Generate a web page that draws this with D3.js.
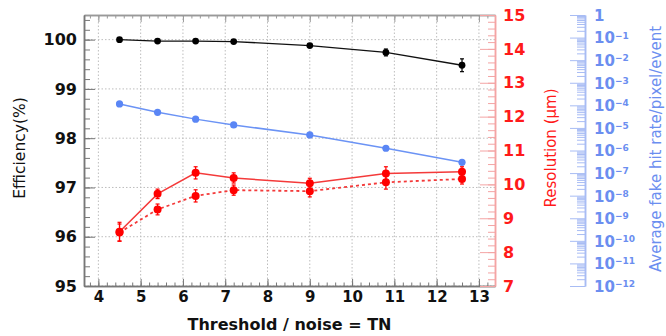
<!DOCTYPE html>
<html>
<head>
<meta charset="utf-8">
<script src="https://cdn.jsdelivr.net/npm/d3@7"></script>
<style>
  html, body { margin: 0; padding: 0; background: #fff; }
  svg { display: block; }
</style>
</head>
<body>
<svg id="chart" width="666" height="336"></svg>
<script>
// Efficiency / resolution / fake hit rate versus threshold-to-noise

const tn = [4.5, 5.4, 6.3, 7.2, 9.0, 10.8, 12.6];
const efficiency = [100.0, 99.97, 99.97, 99.96, 99.88, 99.74, 99.48];
const efficiencyErr = [0.01, 0.015, 0.015, 0.02, 0.03, 0.07, 0.13];
const resolutionSolid = [8.60, 9.72, 10.34, 10.19, 10.03, 10.32, 10.37];
const resolutionSolidErr = [0.28, 0.14, 0.18, 0.15, 0.15, 0.2, 0.15];
const resolutionDashed = [8.58, 9.26, 9.66, 9.83, 9.80, 10.06, 10.16];
const resolutionDashedErr = [0.25, 0.16, 0.18, 0.15, 0.17, 0.2, 0.15];
const fakeRate = [1.15e-4, 4.9e-5, 2.45e-5, 1.35e-5, 4.9e-6, 1.26e-6, 3.0e-7];

const xTicks = [4, 5, 6, 7, 8, 9, 10, 11, 12, 13];
const effTicks = [95, 96, 97, 98, 99, 100];
const resTicks = [7, 8, 9, 10, 11, 12, 13, 14, 15];
const rateExponents = [0, -1, -2, -3, -4, -5, -6, -7, -8, -9, -10, -11, -12];

const svg = d3.select('#chart');
const plotLeft = 84, plotRight = 495, plotTop = 15, plotBottom = 286;
const tickFont = 'DejaVu Sans, sans-serif';

const x = d3.scaleLinear().domain([3.66, 13.38]).range([plotLeft, plotRight]);
const yEff = d3.scaleLinear().domain([95, 100.5]).range([plotBottom, plotTop]);
const yRes = d3.scaleLinear().domain([7, 15]).range([plotBottom, plotTop]);
const yRate = d3.scaleLog().domain([1e-12, 1]).range([plotBottom, plotTop]);

function minorTicks(lo, hi, step) {
  const out = [];
  for (let v = lo; v <= hi + 1e-9; v += step) out.push(+v.toFixed(4));
  return out;
}

// grid
const grid = svg.append('g')
  .attr('stroke', '#bdbdbd')
  .attr('stroke-width', 1)
  .attr('stroke-dasharray', '1.5,2');
grid.selectAll('.gx')
  .data(xTicks)
  .enter()
  .append('line')
  .attr('x1', d => x(d)).attr('x2', d => x(d))
  .attr('y1', plotTop).attr('y2', plotBottom);
grid.selectAll('.gy')
  .data(effTicks)
  .enter()
  .append('line')
  .attr('x1', plotLeft).attr('x2', plotRight)
  .attr('y1', d => yEff(d)).attr('y2', d => yEff(d));

function styleAxis(g, color, width) {
  g.selectAll('path').attr('stroke', color).attr('stroke-width', width);
  g.selectAll('line').attr('stroke', color).attr('stroke-width', 1);
}

// top frame
const topMinor = svg.append('g')
  .attr('transform', `translate(0,${plotTop})`)
  .call(d3.axisTop(x).tickValues(minorTicks(3.8, 13.2, 0.2)).tickSize(-3.5).tickSizeOuter(0).tickFormat(''));
styleAxis(topMinor, '#999', 1.5);
const topMajor = svg.append('g')
  .attr('transform', `translate(0,${plotTop})`)
  .call(d3.axisTop(x).tickValues(xTicks).tickSize(-7).tickSizeOuter(0).tickFormat(''));
styleAxis(topMajor, '#999', 1.5);

// bottom axis
const xMinor = svg.append('g')
  .attr('transform', `translate(0,${plotBottom})`)
  .call(d3.axisBottom(x).tickValues(minorTicks(3.8, 13.2, 0.2)).tickSize(-3.5).tickSizeOuter(0).tickFormat(''));
styleAxis(xMinor, '#777', 1.5);
const xAxis = svg.append('g')
  .attr('transform', `translate(0,${plotBottom})`)
  .call(d3.axisBottom(x).tickValues(xTicks).tickSize(-7).tickSizeOuter(0).tickPadding(5).tickFormat(d3.format('d')));
styleAxis(xAxis, '#777', 1.5);
xAxis.selectAll('text')
  .attr('fill', '#111')
  .style('font', `bold 15px ${tickFont}`);

// left efficiency axis
const effMinor = svg.append('g')
  .attr('transform', `translate(${plotLeft},0)`)
  .call(d3.axisLeft(yEff).tickValues(minorTicks(95, 100.4, 0.2)).tickSize(-6).tickSizeOuter(0).tickFormat(''));
styleAxis(effMinor, '#777', 1.5);
const effAxis = svg.append('g')
  .attr('transform', `translate(${plotLeft},0)`)
  .call(d3.axisLeft(yEff).tickValues(effTicks).tickSize(-11).tickSizeOuter(0).tickPadding(7).tickFormat(d3.format('d')));
styleAxis(effAxis, '#777', 1.5);
effAxis.selectAll('text')
  .attr('fill', '#111')
  .style('font', `bold 16px ${tickFont}`);

// right resolution axis
const resMinor = svg.append('g')
  .attr('transform', `translate(${plotRight},0)`)
  .call(d3.axisRight(yRes).tickValues(minorTicks(7, 15, 0.2)).tickSize(-7).tickSizeOuter(0).tickFormat(''));
styleAxis(resMinor, '#f4a4a4', 1.5);
const resAxis = svg.append('g')
  .attr('transform', `translate(${plotRight},0)`)
  .call(d3.axisRight(yRes).tickValues(resTicks).tickSize(-15).tickSizeOuter(0).tickPadding(8).tickFormat(d3.format('d')));
styleAxis(resAxis, '#f4a4a4', 1.5);
resAxis.selectAll('text')
  .attr('fill', '#ff1a1a')
  .style('font', `bold 16px ${tickFont}`);

// far right fake-rate log axis
const rateX = 585;
const rateMinorValues = [];
rateExponents.slice(1).forEach(e => {
  for (let m = 2; m <= 9; m++) rateMinorValues.push(m * Math.pow(10, e));
});
const rateMinor = svg.append('g')
  .attr('transform', `translate(${rateX},0)`)
  .call(d3.axisRight(yRate).tickValues(rateMinorValues).tickSize(-8).tickSizeOuter(0).tickFormat(''));
styleAxis(rateMinor, '#a8bcf4', 1.5);
const rateAxis = svg.append('g')
  .attr('transform', `translate(${rateX},0)`)
  .call(d3.axisRight(yRate).tickValues(rateExponents.map(e => Math.pow(10, e))).tickSize(-15).tickSizeOuter(0).tickPadding(8).tickFormat(''));
styleAxis(rateAxis, '#a8bcf4', 1.5);
rateAxis.selectAll('.tick').each(function (d, i) {
  const e = rateExponents[i];
  const t = d3.select(this).append('text')
    .attr('x', 9)
    .attr('dy', '0.36em')
    .attr('fill', '#6b8ef0')
    .style('font', `bold 15px ${tickFont}`);
  if (e === 0) {
    t.text('1');
  } else {
    t.append('tspan').text('10');
    t.append('tspan')
      .attr('dy', '-0.55em')
      .style('font-size', '9px')
      .text('\u2212' + Math.abs(e));
  }
});

// axis titles
svg.append('text')
  .attr('transform', `translate(25,148) rotate(-90)`)
  .attr('text-anchor', 'middle')
  .attr('fill', '#111')
  .style('font', `15.5px ${tickFont}`)
  .text('Efficiency(%)');
svg.append('text')
  .attr('x', (plotLeft + plotRight) / 2)
  .attr('y', 330)
  .attr('text-anchor', 'middle')
  .attr('fill', '#111')
  .style('font', `bold 16px ${tickFont}`)
  .text('Threshold / noise = TN');
svg.append('text')
  .attr('transform', `translate(556,148) rotate(-90)`)
  .attr('text-anchor', 'middle')
  .attr('fill', '#ff1a1a')
  .style('font', `15px ${tickFont}`)
  .text('Resolution (\u03bcm)');
svg.append('text')
  .attr('transform', `translate(661,149) rotate(-90)`)
  .attr('text-anchor', 'middle')
  .attr('fill', '#6b8ef0')
  .style('font', `15px ${tickFont}`)
  .text('Average fake hit rate/pixel/event');

// series
function drawSeries(values, errors, yScale, opts) {
  const pts = tn.map((t, i) => ({ t, v: values[i], e: errors ? errors[i] : 0 }));
  const g = svg.append('g');
  g.append('path')
    .datum(pts)
    .attr('fill', 'none')
    .attr('stroke', opts.line)
    .attr('stroke-width', opts.width)
    .attr('stroke-dasharray', opts.dash || null)
    .attr('d', d3.line().x(d => x(d.t)).y(d => yScale(d.v)));
  if (errors) {
    const eb = g.selectAll('.err')
      .data(pts)
      .enter()
      .append('g')
      .attr('stroke', opts.mark)
      .attr('stroke-width', 1.2);
    eb.append('line')
      .attr('x1', d => x(d.t)).attr('x2', d => x(d.t))
      .attr('y1', d => yScale(d.v - d.e)).attr('y2', d => yScale(d.v + d.e));
    eb.append('line')
      .attr('x1', d => x(d.t) - 2).attr('x2', d => x(d.t) + 2)
      .attr('y1', d => yScale(d.v + d.e)).attr('y2', d => yScale(d.v + d.e));
    eb.append('line')
      .attr('x1', d => x(d.t) - 2).attr('x2', d => x(d.t) + 2)
      .attr('y1', d => yScale(d.v - d.e)).attr('y2', d => yScale(d.v - d.e));
  }
  g.selectAll('.pt')
    .data(pts)
    .enter()
    .append('circle')
    .attr('cx', d => x(d.t))
    .attr('cy', d => yScale(d.v))
    .attr('r', opts.r)
    .attr('fill', opts.mark);
}

drawSeries(fakeRate, null, yRate, { line: '#6b93f5', mark: '#5a86f5', width: 1.5, r: 3.6 });
drawSeries(resolutionDashed, resolutionDashedErr, yRes, { line: '#f43a3a', mark: '#ff0000', width: 1.8, dash: '3,3', r: 4 });
drawSeries(resolutionSolid, resolutionSolidErr, yRes, { line: '#f43a3a', mark: '#ff0000', width: 1.5, r: 4 });
drawSeries(efficiency, efficiencyErr, yEff, { line: '#111', mark: '#000', width: 1.3, r: 3.4 });
</script>
</body>
</html>
